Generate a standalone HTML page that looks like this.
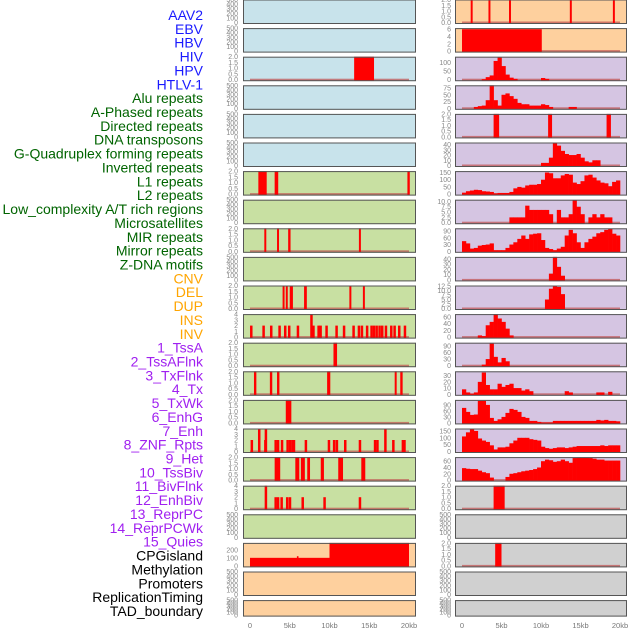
<!DOCTYPE html>
<html><head><meta charset="utf-8"><style>
html,body{margin:0;padding:0;background:#fff;width:630px;height:630px;overflow:hidden}
svg{display:block}
</style></head><body>
<svg id="chart" width="630" height="630" xmlns="http://www.w3.org/2000/svg"></svg>
<script>
// ---- labels ----
const trackLabels = ["AAV2","EBV","HBV","HIV","HPV","HTLV-1","Alu repeats","A-Phased repeats","Directed repeats","DNA transposons","G-Quadruplex forming repeats","Inverted repeats","L1 repeats","L2 repeats","Low_complexity A/T rich regions","Microsatellites","MIR repeats","Mirror repeats","Z-DNA motifs","CNV","DEL","DUP","INS","INV","1_TssA","2_TssAFlnk","3_TxFlnk","4_Tx","5_TxWk","6_EnhG","7_Enh","8_ZNF_Rpts","9_Het","10_TssBiv","11_BivFlnk","12_EnhBiv","13_ReprPC","14_ReprPCWk","15_Quies","CPGisland","Methylation","Promoters","ReplicationTiming","TAD_boundary"];
const labelGroups = [6,13,5,15,5];
const xTickLabels = ["0","5kb","10kb","15kb","20kb"];
const xTickValues = [0,5,10,15,20];
const BIN = 0.5;

// ---- left column data: intervals [startKb, endKb, value] ----
const L2 = [[13.1,15.6,2]];
const L6 = [[1.05,2.1,2],[3.1,3.55,2],[19.8,20.1,2]];
const L8 = [[1.8,2.05,2],[3.4,3.65,2],[4.8,5.1,2],[13.7,13.95,2]];
const L10 = [[4.1,4.35,2],[4.5,4.75,2],[5.0,5.4,2],[6.8,7.15,2],[12.5,12.75,2],[14.2,14.45,2]];
const L11pos = [0.13,1.68,2.64,3.69,4.4,4.9,6.0,7.7,7.95,8.6,8.85,9.6,10.86,11.8,13.0,13.67,14.05,14.7,15.26,15.56,15.9,16.27,16.6,17.07,17.74,18.16,18.74,19.46];
const L11val = [2,2,2,2,2,2,2,4,2,2,2,2,2,2,2,2,2,2,2,2,2,2,2,2,2,2,2,2];
const L12 = [[10.5,10.95,2]];
const L13 = [[0.5,0.8,2],[2.5,2.8,2],[3.4,3.7,2],[9.7,10.1,2],[18.2,18.45,2],[18.9,19.2,2]];
const L14 = [[4.5,5.2,2]];
const L15pos = [0.2,1.13,1.9,1.97,3.2,3.5,4.0,4.7,5.0,5.3,5.5,7.0,9.9,10.55,10.9,11.95,13.8,15.7,16.0,17.0,18.0,19.2,19.4];
const L15val = [2,4,2,4,2,2,2,2,2,2,2,2,2,2,2,2,2,2,2,4,2,2,2];
const L16 = [[3.1,3.8,2],[5.7,6.2,2],[6.4,6.9,2],[7.2,7.55,2],[8.9,9.3,2],[11.1,11.7,2],[14.0,14.5,2]];
const L17pos = [1.97,3.2,3.5,3.95,4.65,5.0,6.6,9.35,13.8];
const L17val = [4,2,2,2,2,2,2,2,2];
const L19 = [[0,10,100],[5.9,6.1,120],[10,20,300]];

// ---- right column data ----
const R0 = [[1.1,1.35,2],[3.35,3.6,2],[5.95,6.2,2],[13.65,13.9,2],[19.1,19.35,2]];
const R1 = [[0,10.1,6]];
const R4 = [[4.0,4.7,2],[10.9,11.4,2],[18.3,18.85,2]];
const R17 = [[4.0,5.4,2]];
const R19 = [[4.2,5.0,2]];
const R2h = [0,0,0,0,0,3,15,25,110,130,80,30,12,5,0,0,0,0,0,0,10,5,0,0,0,0,0,0,0,0,0,0,0,0,0,0,0,0,0,0];
const R3h = [0,0,0,5,8,10,30,85,30,10,50,55,45,35,20,15,15,10,10,10,15,12,5,0,0,0,0,5,5,0,0,0,0,0,0,0,0,0,0,0];
const R5h = [0,0,0,0,0,0,0,0,0,0,0,0,0,0,0,0,0,0,0,0,5,5,15,44,38,28,22,20,20,22,15,8,6,10,10,0,0,0,0,0];
const R6h = [10,20,25,30,28,20,18,15,5,8,8,8,15,40,50,45,60,65,65,70,100,150,145,110,110,130,140,135,80,70,90,130,135,115,95,80,75,55,85,95];
const R7h = [0,0,0,0,0,0,0,0,0,0,0,0,2.5,2.5,2.5,2.5,8,6,6,6,6,6,4,0,6,2.5,2.5,4,10.5,7.5,4,0,2.5,4,2.5,4,2.5,2.5,0,0];
const R8h = [45,35,12,15,25,28,30,35,5,5,5,15,30,40,55,70,55,75,78,80,50,15,10,5,12,20,70,95,80,40,15,40,55,65,80,85,95,100,78,70];
const R9h = [0,0,0,0,0,0,0,0,0,0,0,0,0,0,0,0,0,0,0,0,0,0,12,44,25,8,0,0,0,0,0,0,0,0,0,0,0,0,0,0];
const R10h = [0,0,0,0,0,0,0,0,0,0,0,0,0,0,0,0,0,0,0,0,0,5,11,12.5,12,8,0,0,0,0,0,0,0,0,0,0,0,0,0,0];
const R11h = [0,0,0,0,5,3,35,45,68,55,45,25,5,0,0,0,0,0,0,0,0,0,0,0,0,0,0,0,0,0,0,0,0,0,0,0,0,0,0,0];
const R12h = [0,0,0,0,0,5,30,100,40,15,35,20,0,0,0,0,0,0,0,0,0,0,0,0,0,0,0,0,0,0,0,0,0,0,0,0,0,0,0,0];
const R13h = [8,3,1,3,20,35,15,8,8,17,12,15,17,10,10,6,8,5,0,0,0,0,0,0,0,0,5,3,0,0,0,0,0,0,3,3,0,4,0,0];
const R14h = [75,55,40,42,110,110,90,25,10,18,30,50,70,65,55,30,25,10,10,5,2,2,2,10,10,10,10,10,10,10,10,10,10,10,15,12,15,10,10,8];
const R15h = [110,140,165,150,95,80,70,45,15,30,30,35,60,80,100,100,100,90,85,80,35,25,20,25,30,30,25,30,35,40,40,40,40,40,40,45,40,45,45,45];
const R16h = [38,36,35,35,30,25,22,8,0,0,0,10,20,22,25,28,30,32,35,40,60,65,63,58,60,65,60,55,70,72,72,72,70,68,65,65,62,62,62,62];

// ---- tick sets ----
const T500 = [0,100,200,300,400,500];
const T2 = ["0.0","0.5","1.0","1.5","2.0"];
const T4 = [0,1,2,3,4];

const BLUE="#c8e3eb", ORANGE="#fed09e", PURPLE="#d5c5e2", GREEN="#c8e0a2", GRAY="#d0d0d0";

// panel definitions: [bg, ymax, ticks, kind, data, data2]
const leftPanels = [
 [BLUE,500,T500,"empty"],[BLUE,500,T500,"empty"],[BLUE,2,T2,"int",L2],[BLUE,500,T500,"empty"],
 [BLUE,500,T500,"empty"],[BLUE,500,T500,"empty"],[GREEN,2,T2,"int",L6],[GREEN,500,T500,"empty"],
 [GREEN,2,T2,"int",L8],[GREEN,500,T500,"empty"],[GREEN,2,T2,"int",L10],[GREEN,4,T4,"pts",L11pos,L11val],
 [GREEN,2,T2,"int",L12],[GREEN,2,T2,"int",L13],[GREEN,2,T2,"int",L14],[GREEN,4,T4,"pts",L15pos,L15val],
 [GREEN,2,T2,"int",L16],[GREEN,4,T4,"pts",L17pos,L17val],[GREEN,500,T500,"empty"],[ORANGE,285,[0,100,200],"int",L19],
 [ORANGE,500,T500,"empty"],[ORANGE,500,T500,"empty"]
];
const rightPanels = [
 [ORANGE,2,T2,"int",R0],[ORANGE,6.3,[0,2,4,6],"int",R1],[PURPLE,135,[0,50,100],"hist",R2h],[PURPLE,85,[0,25,50,75],"hist",R3h],
 [PURPLE,2,T2,"int",R4],[PURPLE,44,[0,10,20,30,40],"hist",R5h],[PURPLE,160,[0,50,100,150],"hist",R6h],[PURPLE,10.8,["0.0","2.5","5.0","7.5","10.0"],"hist",R7h],
 [PURPLE,102,[0,30,60,90],"hist",R8h],[PURPLE,44,[0,10,20,30,40],"hist",R9h],[PURPLE,12.8,["0.0","2.5","5.0","7.5","10.0","12.5"],"hist",R10h],[PURPLE,68,[0,20,40,60],"hist",R11h],
 [PURPLE,104,[0,30,60,90],"hist",R12h],[PURPLE,37,[0,10,20,30],"hist",R13h],[PURPLE,115,[0,30,60,90],"hist",R14h],[PURPLE,168,[0,50,100,150],"hist",R15h],
 [PURPLE,73,[0,20,40,60],"hist",R16h],[GRAY,2,T2,"int",R17],[GRAY,500,T500,"empty"],[GRAY,2,T2,"int",R19],
 [GRAY,500,T500,"empty"],[GRAY,500,T500,"empty"]
];

const NS="http://www.w3.org/2000/svg";
const svg=document.getElementById('chart');
function mk(tag,attrs,parent){const e=document.createElementNS(NS,tag);for(const k in attrs)e.setAttribute(k,attrs[k]);(parent||svg).appendChild(e);return e;}

// labels
const groupColors=["#1a1aff","#006400","#ffa500","#a020f0","#000000"];
let li=0;
labelGroups.forEach((n,g)=>{for(let j=0;j<n;j++){
  const t=mk('text',{x:203,y:20+li*13.86,'text-anchor':'end','font-family':'Liberation Sans, sans-serif','font-size':'14',fill:groupColors[g]});
  
  
  t.textContent=trackLabels[li];li++;
}});

const cols=[{x0:243,x1:416,z0:250,z20:409,tx:238,panels:leftPanels,name:'left'},
            {x0:455,x1:627,z0:462,z20:620,tx:451,panels:rightPanels,name:'right'}];
cols.forEach(col=>{
  const xs=kb=>col.z0+(col.z20-col.z0)*kb/20;
  col.panels.forEach((p,i)=>{
    const top=i*28.6-0.5, h=(i===21)?16.5:24.5, bot=top+h;
    const g=mk('g',{});
    
    
    mk('rect',{x:col.x0,y:top,width:col.x1-col.x0,height:h,fill:p[0]},g);
    const y0=bot-1.5, ys=v=>y0-(y0-top)*Math.min(v,p[1])/p[1];
    // ticks
    p[2].forEach(tv=>{
      const v=parseFloat(tv);
      const t=mk('text',{x:col.tx,y:ys(v)+2.5,'text-anchor':'end','font-family':'Liberation Sans, sans-serif','font-size':'7',fill:'#888'},g);
      
      
      t.textContent=tv;
    });
    if(p[3]!=="empty"){
      const bl=mk('rect',{x:xs(0),y:y0-1,width:xs(20)-xs(0),height:2,fill:'#c05050',opacity:0.7},g);
      
      
    }
    if(p[3]==="int"){
      p[4].forEach(d=>{
        const r=mk('rect',{x:xs(d[0]),y:ys(d[2]),width:Math.max(1.5,xs(d[1])-xs(d[0])),height:y0-ys(d[2])+1,fill:'#ff0000'},g);
        
        
      });
    } else if(p[3]==="pts"){
      p[4].forEach((kb,k)=>{
        const v=p[5][k];
        const r=mk('rect',{x:xs(kb)-1,y:ys(v),width:2.5,height:y0-ys(v)+1,fill:'#ff0000'},g);
        
        
      });
    } else if(p[3]==="hist"){
      p[4].forEach((v,k)=>{
        if(v<=0)return;
        const r=mk('rect',{x:xs(k*BIN),y:ys(v),width:xs((k+1)*BIN)-xs(k*BIN)+0.3,height:y0-ys(v)+1,fill:'#ff0000'},g);
        
        
      });
    }
    mk('rect',{x:col.x0+0.5,y:top+0.5,width:col.x1-col.x0-1,height:h-1,fill:'none',stroke:'#555','stroke-width':1},g);
  });
  xTickValues.forEach((v,k)=>{
    const t=mk('text',{x:xs(v),y:628,'text-anchor':'middle','font-family':'Liberation Sans, sans-serif','font-size':'7.5',fill:'#777'});
    
    
    t.textContent=xTickLabels[k];
  });
});
</script>
</body></html>
